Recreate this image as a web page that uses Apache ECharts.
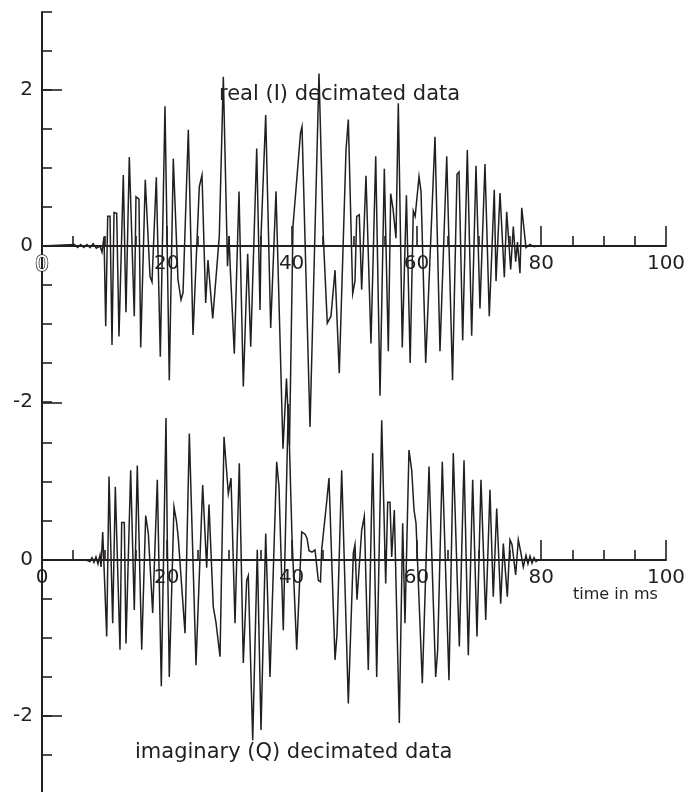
<!DOCTYPE html>
<html>
<head>
<meta charset="utf-8">
<script src="https://cdn.jsdelivr.net/npm/echarts@6/dist/echarts.min.js"></script>
<style>
html,body{margin:0;padding:0;background:#fff;}
#chart{width:700px;height:792px;}
</style>
</head>
<body>
<div id="chart"></div>
<script>
// ---- data (time in ms, amplitude) ----
const upperTime = [0,5.2,5.7,6.2,6.7,7.2,7.7,8.2,8.7,9.29,9.62,9.94,10.21,10.53,10.90,11.22,11.54,11.97,12.34,13.03,13.46,13.99,14.79,15.06,15.54,15.82,16.55,17.31,17.63,18.32,18.96,19.71,20.40,21.04,21.79,22.28,22.60,23.45,24.20,24.52,25.21,25.64,26.23,26.60,26.92,27.36,28.41,29.06,29.73,29.97,30.21,30.82,31.57,32.26,32.96,33.45,34.41,34.94,35.10,35.85,36.65,37.50,38.62,39.18,39.66,40.22,41.43,41.67,42.95,44.39,45.08,45.72,46.31,46.96,47.64,48.72,49.09,49.79,50.16,50.43,50.85,51.23,51.92,52.72,53.48,54.17,54.86,55.50,55.88,56.25,56.73,57.10,57.74,58.40,59.00,59.50,59.80,60.42,60.74,61.49,62.98,63.78,64.86,65.79,66.51,66.83,67.42,68.16,68.86,69.55,70.19,70.99,71.68,72.48,72.76,73.40,74.09,74.47,75.11,75.53,75.91,76.20,76.60,76.88,77.56,78.21,78.85,79.33];
const upperValue = [0,0.02,-0.02,0.02,-0.02,0.02,-0.02,0.03,-0.03,0,-0.08,0.12,-1.03,0.38,0.38,-1.27,0.43,0.42,-1.16,0.91,-0.85,1.14,-0.9,0.63,0.6,-1.3,0.85,-0.39,-0.46,0.88,-1.42,1.79,-1.72,1.12,-0.43,-0.69,-0.6,1.49,-1.14,-1.14,0.76,0.91,-0.73,-0.18,-0.2,-0.93,0.12,2.17,-0.26,0.12,-0.35,-1.38,0.70,-1.8,-0.1,-1.29,1.25,-0.82,0.12,1.68,-1.05,0.70,-2.6,-1.7,-2.55,0.25,1.45,1.53,-2.32,2.21,0.12,-0.99,-0.9,-0.31,-1.63,1.23,1.62,-0.61,-0.45,0.38,0.40,-0.56,0.9,-1.25,1.15,-1.92,0.99,-1.35,0.67,0.48,0.1,1.83,-1.3,0.65,-1.5,0.45,0.38,0.89,0.7,-1.5,1.40,-1.35,1.15,-1.72,0.92,0.95,-1.21,1.23,-1.15,1.03,-0.8,1.05,-0.9,0.72,-0.45,0.68,-0.4,0.44,-0.3,0.25,-0.2,0.05,-0.35,0.49,-0.02,0.02,-0.01,0];

const lowerTime = [0,7.05,7.37,7.69,8.01,8.33,8.65,8.97,9.29,9.46,9.73,10.37,10.74,11.33,11.75,12.50,12.77,13.19,13.46,14.21,14.79,15.27,15.98,16.62,17.04,17.74,18.48,19.12,19.87,20.08,20.40,21.15,21.55,21.84,22.92,23.61,24.68,25.75,26.39,26.76,27.45,27.88,28.53,29.17,29.86,30.29,30.93,31.62,32.26,32.80,33.06,33.77,34.50,35.10,35.85,36.54,37.61,37.98,38.67,39.47,40.06,40.82,41.62,42.15,42.47,42.79,43.27,43.75,44.28,44.63,44.82,45.63,45.99,46.96,47.28,48.03,49.09,49.89,50.16,50.48,50.80,51.23,51.65,52.29,53.00,53.64,54.44,55.08,55.40,55.77,56.04,56.46,57.26,57.80,58.17,58.81,59.25,59.62,59.94,60.95,62.02,63.09,63.41,64.15,65.22,65.91,66.88,67.63,68.32,69.02,69.71,70.35,71.11,71.79,72.32,72.87,73.51,73.93,74.20,74.57,75.00,75.32,75.91,76.33,76.68,77.13,77.56,77.88,78.21,78.53,78.85,79.17,79.49];
const lowerValue = [0,0,0.02,-0.02,0.03,-0.03,0.04,-0.05,0.06,-0.09,0.36,-0.98,1.07,-0.81,0.94,-1.15,0.48,0.48,-1.07,1.15,-0.64,1.21,-1.15,0.57,0.34,-0.68,1.03,-1.62,1.82,0.26,-1.5,0.68,0.5,0.28,-0.94,1.62,-1.35,0.96,-0.1,0.71,-0.6,-0.8,-1.24,1.58,0.85,1.05,-0.81,1.24,-1.32,-0.26,-0.2,-2.31,0.13,-2.18,0.34,-1.5,1.26,0.94,-0.9,2.0,0.3,-1.15,0.36,0.33,0.28,0.12,0.1,0.13,-0.26,-0.28,0.13,0.75,1.05,-1.28,-0.95,1.15,-1.84,0.09,0.2,-0.51,-0.51,0.38,0.56,-1.41,1.37,-1.5,1.79,-0.3,0.74,0.74,0.04,0.64,-2.09,0.47,-0.81,1.41,1.15,0.64,0.47,-1.58,1.2,-1.5,-1.15,1.26,-1.54,1.37,-1.11,1.28,-1.22,1.03,-0.98,1.03,-0.77,0.9,-0.47,0.66,-0.56,0.21,0.2,-0.47,0.26,0.2,-0.19,0.26,0.12,-0.09,0.06,-0.05,0.05,-0.04,0.03,-0.02,0];

const xTickLabels = [0, 20, 40, 60, 80, 100];
const upperYLabels = [2, 0, -2];
const lowerYLabels = [0, -2];
const upperTitle = 'real (I) decimated data';
const lowerTitle = 'imaginary (Q) decimated data';
const xName = 'time in ms';

// ---- chart ----
const INK = '#231f20';
const FONT = 'DejaVu Sans';
const chart = echarts.init(document.getElementById('chart'), null, {renderer: 'canvas'});

function pairs(t, v) { return t.map((x, i) => [x, v[i]]); }
const G = (top, height) => ({left: 42, top, width: 624, height, containLabel: false, outerBoundsMode: 'none'});
const tickStyle = {color: INK, width: 1.6};

const xAxisShown = (gridIndex, outlinedZero) => ({
  type: 'value', gridIndex, position: 'bottom', min: 0, max: 100, interval: 20,
  axisLine: {show: true, onZero: false, lineStyle: {color: INK, width: 2}},
  axisTick: {show: true, inside: true, length: 20, lineStyle: tickStyle},
  minorTick: {show: true, splitNumber: 4, length: 10, lineStyle: tickStyle},
  splitLine: {show: false},
  axisLabel: {
    show: true, margin: 8, color: INK, fontFamily: FONT, fontSize: 20,
    formatter: v => (xTickLabels.indexOf(v) >= 0 ? (outlinedZero && v === 0 ? '{o|0}' : String(v)) : ''),
    rich: {o: {color: '#ffffff', textBorderColor: INK, textBorderWidth: 1.5, fontFamily: FONT, fontSize: 22}}
  }
});
const xHidden = gridIndex => ({type: 'value', gridIndex, min: 0, max: 100, show: false});
const yTicks = (gridIndex, min, max, labels) => ({
  type: 'value', gridIndex, min, max, interval: 0.5,
  axisLine: {show: false, onZero: false},
  axisTick: {show: true, inside: true, length: 10, lineStyle: tickStyle},
  splitLine: {show: false},
  axisLabel: {
    show: true, margin: 9, color: INK, fontFamily: FONT, fontSize: 20,
    formatter: v => (labels.indexOf(Number(v)) >= 0 ? String(Number(v)) : '')
  }
});

chart.setOption({
  animation: false,
  backgroundColor: '#ffffff',
  grid: [
    G(12, 234),   // 0: upper panel, zero line at bottom edge
    G(326, 234),  // 1: lower panel, zero line at bottom edge
    G(12, 390),   // 2: upper y ticks (3 .. -2)
    G(443, 351),  // 3: lower y ticks (1.5 .. -3)
    G(12, 780),   // 4: full-height y axis line
    G(90, 626)    // 5: long ticks at the labelled +-2 positions
  ],
  xAxis: [xAxisShown(0, true), xAxisShown(1, false), xHidden(2), xHidden(3), xHidden(4), xHidden(5)],
  yAxis: [
    {type: 'value', gridIndex: 0, min: 0, max: 3, show: false},
    {type: 'value', gridIndex: 1, min: 0, max: 3, show: false},
    yTicks(2, -2, 3, upperYLabels),
    yTicks(3, -3, 1.5, lowerYLabels),
    {type: 'value', gridIndex: 4, min: 0, max: 1,
      axisLine: {show: true, onZero: false, lineStyle: {color: INK, width: 2}},
      axisTick: {show: false}, axisLabel: {show: false}, splitLine: {show: false}},
    {type: 'value', gridIndex: 5, min: 0, max: 2, interval: 1,
      axisLine: {show: false, onZero: false},
      axisTick: {show: true, inside: true, length: 20, lineStyle: tickStyle},
      axisLabel: {show: false}, splitLine: {show: false}}
  ],
  series: [
    {
      type: 'line', xAxisIndex: 0, yAxisIndex: 0, data: pairs(upperTime, upperValue),
      showSymbol: false, symbol: 'none', clip: false, z: 3,
      lineStyle: {color: INK, width: 1.5, join: 'miter'}
    },
    {
      type: 'line', xAxisIndex: 1, yAxisIndex: 1, data: pairs(lowerTime, lowerValue),
      showSymbol: false, symbol: 'none', clip: false, z: 3,
      lineStyle: {color: INK, width: 1.5, join: 'miter'}
    }
  ],
  graphic: [
    {type: 'text', left: 219, top: 84, style: {text: upperTitle, fill: INK, font: '21px "DejaVu Sans"'}},
    {type: 'text', left: 135, top: 742, style: {text: lowerTitle, fill: INK, font: '21px "DejaVu Sans"'}},
    {type: 'text', left: 573, top: 587, style: {text: xName, fill: INK, font: '16px "DejaVu Sans"'}}
  ]
});
</script>
</body>
</html>
